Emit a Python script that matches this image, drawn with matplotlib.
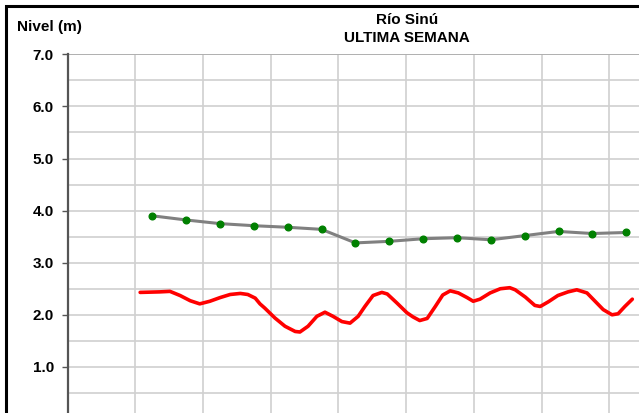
import numpy as np
import matplotlib
matplotlib.use("Agg")
import matplotlib.pyplot as plt
from matplotlib.patches import Rectangle

plt.rcParams['font.family'] = ['Liberation Sans', 'DejaVu Sans']

# niveles cada 12 horas (dias desde el inicio del eje)
dias_obs = [1.25, 1.75, 2.25, 2.75, 3.25, 3.75, 4.25, 4.75,
            5.25, 5.75, 6.25, 6.75, 7.25, 7.75, 8.25]
nivel_obs = [3.90, 3.82, 3.75, 3.71, 3.68, 3.64, 3.38, 3.41,
             3.46, 3.48, 3.44, 3.52, 3.60, 3.56, 3.58]

# curva roja
dias_roja = [1.07, 1.36, 1.51, 1.66, 1.81, 1.95, 2.10, 2.25, 2.40, 2.55,
             2.66, 2.77, 2.84, 2.91, 3.06, 3.21, 3.36, 3.43, 3.55, 3.68,
             3.80, 3.92, 4.05, 4.17, 4.29, 4.39, 4.51, 4.64, 4.72, 4.86,
             5.01, 5.10, 5.20, 5.31, 5.43, 5.54, 5.65, 5.77, 5.90, 5.99,
             6.09, 6.24, 6.39, 6.53, 6.61, 6.76, 6.90, 6.98, 7.10, 7.24,
             7.39, 7.52, 7.67, 7.79, 7.91, 8.04, 8.13, 8.23, 8.34]
nivel_roja = [2.43, 2.44, 2.45, 2.37, 2.27, 2.21, 2.26, 2.33, 2.39, 2.41,
              2.39, 2.32, 2.21, 2.13, 1.94, 1.78, 1.68, 1.67, 1.78, 1.97,
              2.05, 1.97, 1.87, 1.84, 1.97, 2.16, 2.37, 2.43, 2.40, 2.23,
              2.04, 1.96, 1.89, 1.93, 2.16, 2.38, 2.46, 2.42, 2.33, 2.26,
              2.30, 2.42, 2.50, 2.52, 2.48, 2.34, 2.18, 2.16, 2.25, 2.37,
              2.44, 2.48, 2.42, 2.26, 2.10, 2.00, 2.02, 2.16, 2.30]

yticks = [1, 2, 3, 4, 5, 6, 7]
ytick_labels = ['1.0', '2.0', '3.0', '4.0', '5.0', '6.0', '7.0']

W, H = 639, 413
fig = plt.figure(figsize=(W / 100, H / 100), dpi=100)

# ejes: izquierda en x=68px, 7.0 en y=54px, 0.0 en y=419px, dia 9 en x=677px
left = 67.7 / W
right = 677.0 / W
top = 1 - 54.3 / H
bottom = 1 - 419.0 / H
ax = fig.add_axes([left, bottom, right - left, top - bottom])
ax.set_xlim(0, 9)
ax.set_ylim(0, 7)

ax.set_yticks(yticks)
ax.set_yticklabels(ytick_labels, fontsize=11, fontweight='bold')
ax.set_yticks(np.arange(0.5, 7.0, 1.0), minor=True)
ax.set_xticks(range(1, 9))
ax.tick_params(axis='x', length=0, labelbottom=False)
ax.tick_params(axis='y', which='major', length=4, width=1, color='#555555', pad=6)
ax.tick_params(axis='y', which='minor', length=0)

ax.grid(True, which='both', color='#d0d0d0', linewidth=1.2)
ax.set_axisbelow(True)
for s in ['top', 'right', 'bottom']:
    ax.spines[s].set_visible(False)
ax.spines['left'].set_color('#555555')
ax.spines['left'].set_linewidth(1.6)
ax.axhline(7.0, color='#b0b0b0', linewidth=1.4, zorder=1)

ax.plot(dias_roja, nivel_roja, color='#ff0000', linewidth=2.6,
        solid_joinstyle='round', solid_capstyle='round', zorder=3)
ax.plot(dias_obs, nivel_obs, color='#808080', linewidth=2.2,
        solid_joinstyle='round', zorder=3)
ax.plot(dias_obs, nivel_obs, linestyle='none', marker='o', markersize=4.8,
        color='#008000', zorder=4)

fig.text(17 / W, 1 - 27 / H, 'Nivel (m)', fontsize=11, fontweight='bold',
         ha='left', va='center')
fig.text(407 / W, 1 - 20 / H, 'Río Sinú', fontsize=11, fontweight='bold',
         ha='center', va='center')
fig.text(407 / W, 1 - 38 / H, 'ULTIMA SEMANA', fontsize=11, fontweight='bold',
         ha='center', va='center')

# marco negro del grafico
fig.patches.append(Rectangle((5.5 / W, -0.2), 1.5, 1.2 - 5.5 / H,
                             transform=fig.transFigure, fill=False,
                             edgecolor='black', linewidth=2.2))

fig.savefig('out.png', dpi=100)
